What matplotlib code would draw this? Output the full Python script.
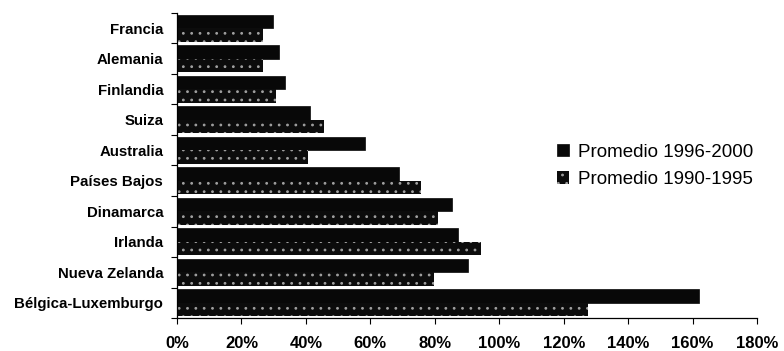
import matplotlib
matplotlib.use("Agg")
import matplotlib.pyplot as plt
from matplotlib.ticker import FuncFormatter, FixedLocator
import numpy as np

plt.rcParams['font.family'] = ['Liberation Sans', 'DejaVu Sans']
plt.rcParams['hatch.linewidth'] = 0.8

categories = ["Francia", "Alemania", "Finlandia", "Suiza", "Australia",
              "Países Bajos", "Dinamarca", "Irlanda", "Nueva Zelanda",
              "Bélgica-Luxemburgo"]
prom_1996_2000 = [0.298, 0.317, 0.335, 0.413, 0.583, 0.690, 0.854, 0.871, 0.904, 1.621]
prom_1990_1995 = [0.267, 0.267, 0.307, 0.456, 0.407, 0.756, 0.809, 0.943, 0.796, 1.275]
xticks = [0, 0.2, 0.4, 0.6, 0.8, 1.0, 1.2, 1.4, 1.6, 1.8]

fig = plt.figure(figsize=(7.84, 3.51), dpi=100)
ax = fig.add_axes([0.2258, 0.094, 0.7398, 0.869])

y = np.arange(len(categories))
h = 0.44
ax.barh(y - h / 2, prom_1996_2000, height=h, color='#080808', edgecolor='#080808',
        linewidth=0.5, label='Promedio 1996-2000')
ax.barh(y + h / 2, prom_1990_1995, height=h, facecolor='#0c0c0c', edgecolor='#a0a0a0',
        linewidth=0, hatch='..', label='Promedio 1990-1995')

ax.set_ylim(len(categories) - 0.5, -0.5)
ax.set_xlim(0, 1.8)
ax.set_yticks(y)
ax.set_yticklabels(categories, fontsize=10.8, fontweight='bold')
ax.yaxis.set_minor_locator(FixedLocator(np.arange(-0.5, len(categories), 1.0)))
ax.tick_params(axis='y', which='major', length=0, pad=10)
ax.tick_params(axis='y', which='minor', length=4, direction='out', width=0.8)

ax.set_xticks(xticks)
ax.xaxis.set_major_formatter(FuncFormatter(lambda v, p: f"{v*100:.0f}%"))
ax.tick_params(axis='x', length=4, direction='out', width=0.8, pad=9, labelsize=12)
for lab in ax.get_xticklabels():
    lab.set_fontweight('bold')

for s in ['top', 'right']:
    ax.spines[s].set_visible(False)
for s in ['left', 'bottom']:
    ax.spines[s].set_linewidth(0.9)

ax.legend(loc='center left', bbox_to_anchor=(0.689, 0.528), bbox_transform=fig.transFigure,
          frameon=False, fontsize=13.5, handlelength=0.65, handleheight=0.65,
          handletextpad=0.45, labelspacing=0.55)

fig.savefig("out.png", dpi=100)
